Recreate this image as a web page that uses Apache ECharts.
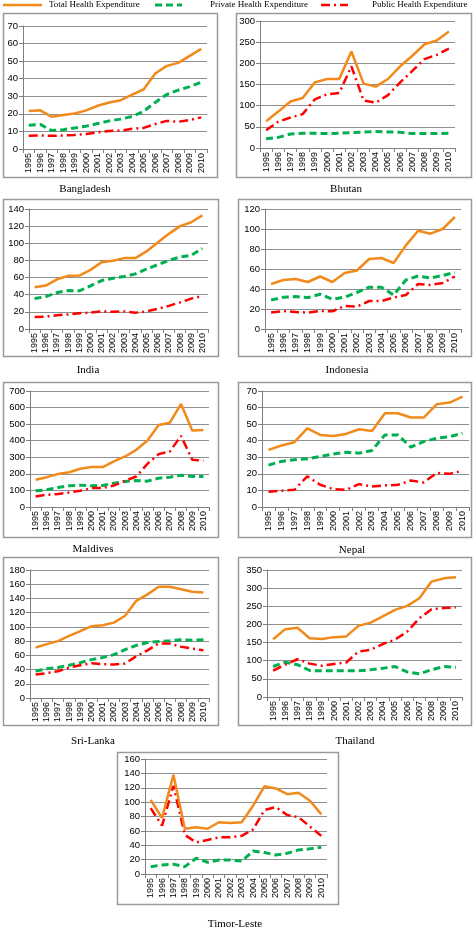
<!DOCTYPE html>
<html><head><meta charset="utf-8">
<script src="https://cdn.jsdelivr.net/npm/echarts/dist/echarts.min.js"></script>
<style>html,body{margin:0;padding:0;background:#fff}#c{width:473px;height:928px}</style>
</head><body><div id="c"></div>
<script>
// ---------- data ----------
const years = ['1995','1996','1997','1998','1999','2000','2001','2002','2003','2004','2005','2006','2007','2008','2009','2010'];
const seriesNames = ['Total Health Expenditure','Private Health Expenditure','Public Health Expenditure'];
const countries = ['Bangladesh','Bhutan','India','Indonesia','Maldives','Nepal','Sri-Lanka','Thailand','Timor-Leste'];

const bangladeshTotal   = [21.6,22,18.3,19.3,20.2,22,24.6,26.5,27.8,31,34,43,47.3,49,53,57];
const bangladeshPrivate = [13.5,14,10.5,11,12,13,14.5,16,17,18.5,21.5,26.5,31,33.5,35.5,38];
const bangladeshPublic  = [7.5,7.7,7.5,7.7,8,8.5,9.5,10.3,10.5,11.5,12,14.2,16,15.5,16.5,18];

const bhutanTotal   = [63,86,110,118,155,163,163,228,152,145,163,193,218,245,254,275];
const bhutanPrivate = [22,25,33,35,35,34,35,36,38,39,38,37,34,34,34,35];
const bhutanPublic  = [42,62,72,80,115,127,130,193,112,107,125,155,182,210,220,235];

const indiaTotal   = [48.8,50.7,58,62,62.4,69,78,79.6,82.7,82.7,90.5,101,111,120,124.5,132.6];
const indiaPrivate = [35.5,37.8,42.5,44.8,44.5,50.3,56.5,59.3,61.2,64.3,70,75,80,84,86,94];
const indiaPublic  = [14,14.5,16,17,18.5,19,20.5,20,20.5,19,20.5,23.5,27,31,35.5,38.5];

const indonesiaTotal   = [45,49,50,47,52.5,47,56,58.5,70,71,66,83.6,98.3,95.3,100,112];
const indonesiaPrivate = [29,31.8,32.4,31.4,34.8,29.8,31.8,36.5,41.8,41.8,34,49,53,51,53.5,56.5];
const indonesiaPublic  = [16.4,18,17,16.4,18,17.7,23,22.4,28,28,31.4,34,45,44,46,52.5];

const maldivesTotal   = [164,180,199,210,231,241,241,275,305,345,401,495,509,622,461,465];
const maldivesPrivate = [98,104,118,128,132,128,130,144,154,160,156,174,180,192,184,184];
const maldivesPublic  = [64,74,78,88,98,114,114,130,158,184,261,319,335,429,285,279];

const nepalTotal   = [34.5,37.1,39.1,47.5,43.5,42.9,44.1,46.9,45.9,56.6,56.6,54,54,62,63,66.6];
const nepalPrivate = [25.3,27.5,28.5,29.1,30.5,31.9,33.1,32.5,34.1,43.5,43.5,36.1,39.5,41.5,42.5,44.5];
const nepalPublic  = [9.2,9.8,10.4,18.5,13.4,10.8,10.4,13.8,12.4,13,13.4,16,14.8,20.5,20,21.9];

const sriLankaTotal   = [71,75.7,80,87.4,94,101,102.4,106,115.6,136.7,145.7,156.5,156.5,153,149.4,148.5];
const sriLankaPrivate = [38,41,42.8,46,49.8,54,57,61,68,74,78,79.4,80.4,82,81.3,82];
const sriLankaPublic  = [33,35,37.6,42.8,46,49,47.5,47,48.4,58.7,67,76.6,76.6,72,69.5,67];

const thailandTotal   = [159,187,191,162,160,165,167,196,205,222,240,251,272,318,327,330];
const thailandPrivate = [84,96,89,73,72,72,72,72,75,79,84,69,64,75,84,82];
const thailandPublic  = [73,89,104,92,86,91,95,125,130,146,158,180,217,242,245,247];

const timorTotal   = [103,78,138,63,65,63,72,71,72,95,122,119,111,113,102,83];
const timorPrivate = [10.2,12.6,13.5,10.2,21.9,16.3,19.5,19.5,18,32,29.8,26.5,28.8,33.5,35,37.2];
const timorPublic  = [91.6,67.4,122.8,54.4,44,47.4,51,51,53,62,89,93,82,79,66,53];

// y-axis tick ranges (max, step) per panel
const yMax  = [70,300,140,120,700,70,180,350,160];
const yStep = [10,50,20,20,100,10,20,50,20];

const panelData = [
  [bangladeshTotal,bangladeshPrivate,bangladeshPublic],
  [bhutanTotal,bhutanPrivate,bhutanPublic],
  [indiaTotal,indiaPrivate,indiaPublic],
  [indonesiaTotal,indonesiaPrivate,indonesiaPublic],
  [maldivesTotal,maldivesPrivate,maldivesPublic],
  [nepalTotal,nepalPrivate,nepalPublic],
  [sriLankaTotal,sriLankaPrivate,sriLankaPublic],
  [thailandTotal,thailandPrivate,thailandPublic],
  [timorTotal,timorPrivate,timorPublic]
];

// ---------- layout ----------
const grids = [
  {left:23,top:26,width:184,height:123},
  {left:260,top:21,width:195,height:127},
  {left:29,top:209,width:179,height:120},
  {left:265,top:209,width:196,height:120},
  {left:30,top:391,width:179,height:116},
  {left:262,top:391,width:207,height:116},
  {left:30,top:570,width:179,height:128},
  {left:267,top:570,width:195,height:127},
  {left:145,top:759,width:182,height:115}
];
const boxes = [
  [3,13,214,164],[236,13,235,164],
  [3,199,215,157],[238,199,233,157],
  [3,382,215,155],[238,382,233,155],
  [3,557,215,168],[238,557,233,168],
  [117,752,221,152]
];
const titlePos = [[85,189],[346,189],[88,370],[347,370],[93,549],[352,550],[93,741],[355,741],[235,924]];

const colors = ['#F28A1B','#00B050','#FF0000'];
const lineTypes = ['solid',[7,4],[9,4,2,4]];
const widths = [2.5,3,2.5];

const AX = '#7f7f7f';
const xAxes = [], yAxes = [], series = [], graphics = [];
grids.forEach((g,i)=>{
  xAxes.push({
    type:'category', gridIndex:i, data:years, boundaryGap:true,
    axisLine:{lineStyle:{color:AX,width:1}},
    axisTick:{show:true,length:4,lineStyle:{color:AX}},
    axisLabel:{rotate:90,fontSize:9,fontFamily:'Liberation Sans',color:'#000',margin:4,interval:0},
    splitLine:{show:false}
  });
  yAxes.push({
    type:'value', gridIndex:i, min:0, max:yMax[i], interval:yStep[i],
    axisLine:{show:true,lineStyle:{color:AX,width:1}},
    axisTick:{show:true,length:4,lineStyle:{color:AX}},
    axisLabel:{fontSize:9.5,fontFamily:'Liberation Sans',color:'#000',margin:5},
    splitLine:{show:true,lineStyle:{color:'#8f8f8f',width:1}}
  });
  panelData[i].forEach((vals,k)=>{
    series.push({
      name:seriesNames[k], type:'line', xAxisIndex:i, yAxisIndex:i,
      data:vals, symbol:'none', smooth:false, z:3+(k===0?2:(k===2?1:0)),
      lineStyle:{color:colors[k],width:widths[k],type:lineTypes[k]},
      itemStyle:{color:colors[k]}
    });
  });
  const b = boxes[i];
  graphics.push({type:'rect',shape:{x:b[0]+0.5,y:b[1]+0.5,width:b[2],height:b[3]},
    style:{fill:'none',stroke:'#9a9a9a',lineWidth:1.5},z:-1,silent:true});
  graphics.push({type:'text',x:titlePos[i][0],y:titlePos[i][1],
    style:{text:countries[i],fill:'#000',font:'11px "Liberation Serif"',textAlign:'center',textVerticalAlign:'middle'}});
});

// legend keys (line samples + text)
const legendKeys = [[3,42,49],[155,182,210],[321,348,372]];
legendKeys.forEach((lk,k)=>{
  graphics.push({type:'line',shape:{x1:lk[0],y1:5,x2:lk[1],y2:5},
    style:{stroke:colors[k],lineWidth:widths[k],lineDash:k===0?null:lineTypes[k]}});
  graphics.push({type:'text',x:lk[2],y:5,
    style:{text:seriesNames[k],fill:'#000',font:'9px "Liberation Serif"',textAlign:'left',textVerticalAlign:'middle'}});
});

const option = {
  animation:false,
  backgroundColor:'#fff',
  grid:grids.map(g=>Object.assign({containLabel:false},g)),
  xAxis:xAxes, yAxis:yAxes, series:series, graphic:graphics
};
const chart = echarts.init(document.getElementById('c'),null,{renderer:'canvas'});
chart.setOption(option);
</script></body></html>
